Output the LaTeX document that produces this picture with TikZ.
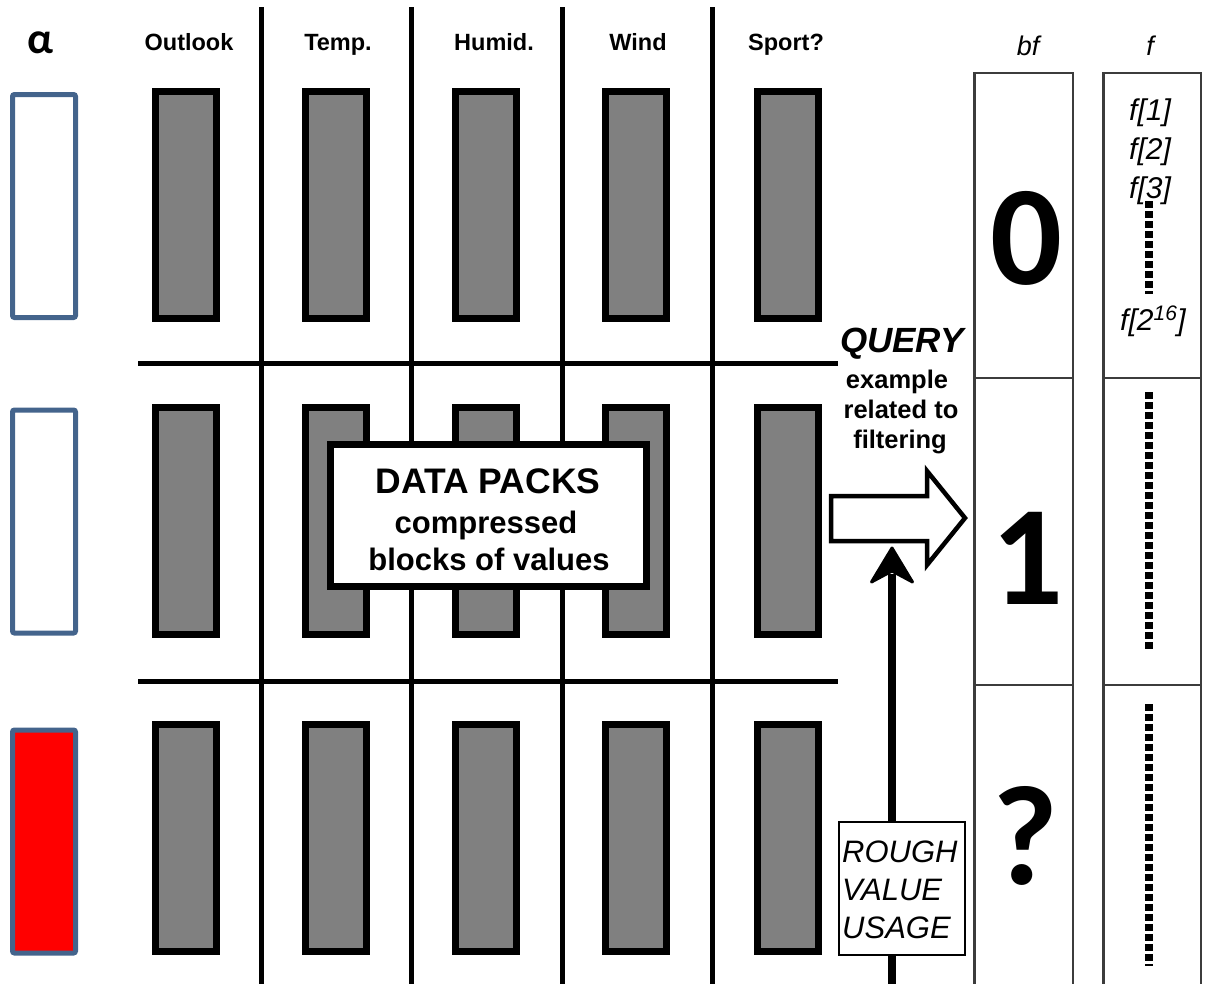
\documentclass[tikz,border=0pt]{standalone}
\usepackage{fontspec}
\setmainfont{Liberation Sans}
\newfontfamily\calib{Carlito}
\usetikzlibrary{arrows.meta}
\definecolor{boxblue}{RGB}{68,100,140}
\definecolor{packgray}{RGB}{128,128,128}
\definecolor{colline}{RGB}{60,60,60}
\begin{document}
\begin{tikzpicture}[x=1pt,y=-1pt,
  bar/.style={draw=black,fill=packgray,line width=7pt,minimum width=61pt,minimum height=227pt,inner sep=0pt},
  abox/.style={draw=boxblue,line width=5pt,rounded corners=2pt,minimum width=63pt,minimum height=223pt,inner sep=0pt},
  gridline/.style={line width=5pt,black},
  hdr/.style={font=\fontsize{23.5}{28}\selectfont\bfseries,inner sep=0pt,anchor=base},
  txt/.style={inner sep=0pt,anchor=base},
  colcell/.style={draw=colline,line width=2.5pt,inner sep=0pt},
  dotline/.style={line width=8.5pt,dash pattern=on 6.5pt off 3.5pt},
  bigdigit/.style={font=\calib\bfseries\fontsize{142}{150}\selectfont,inner sep=0pt,anchor=base},
  flab/.style={font=\fontsize{30}{34}\selectfont\itshape,inner sep=0pt,anchor=base}
]
\useasboundingbox (0,0) rectangle (1207,983);

% alpha and left boxes
\node[txt,font=\calib\bfseries\fontsize{44}{48}\selectfont] (alpha) at (40,53) {α};
\node[abox] (a1) at (44,206) {};
\node[abox] (a2) at (44,521.5) {};
\node[abox,fill=red] (a3) at (44,841.5) {};

% headers
\node[hdr] (h1) at (189,50) {Outlook};
\node[hdr] (h2) at (338,50) {Temp.};
\node[hdr] (h3) at (494,50) {Humid.};
\node[hdr] (h4) at (638,50) {Wind};
\node[hdr] (h5) at (786,50) {Sport?};

% grid lines
\foreach \x in {261.5,411.5,562.5,712.5} \draw[gridline] (\x,7) -- (\x,990);
\foreach \y in {363,681} \draw[gridline] (138,\y) -- (838,\y);

% data pack bars
\foreach \c/\x in {1/186,2/336,3/485.5,4/636,5/787.5}{
  \node[bar] (p1\c) at (\x,205) {};
  \node[bar] (p2\c) at (\x,521) {};
  \node[bar] (p3\c) at (\x,838) {};
}

% DATA PACKS box
\node[draw=black,fill=white,line width=7pt,minimum width=316pt,minimum height=142pt,inner sep=0pt] (dp) at (488.5,515.5) {};
\node[txt,font=\fontsize{35.5}{40}\selectfont\bfseries] (dpt1) at (488,493) {DATA PACKS};
\node[txt,font=\fontsize{31}{36}\selectfont\bfseries] (dpt2) at (486,533) {compressed};
\node[txt,font=\fontsize{31}{36}\selectfont\bfseries] (dpt3) at (489,570) {blocks of values};

% QUERY text
\node[txt,font=\fontsize{35}{38}\selectfont\bfseries\itshape] (q1) at (902,352) {QUERY};
\node[txt,font=\fontsize{25.5}{30}\selectfont\bfseries] (q2) at (897,388) {example};
\node[txt,font=\fontsize{25.5}{30}\selectfont\bfseries] (q3) at (901,418) {related to};
\node[txt,font=\fontsize{25.5}{30}\selectfont\bfseries] (q4) at (900,448) {filtering};

% block arrow
\draw[line width=4.5pt,fill=white,line join=miter] (831,496) -- (927,496) -- (927,471) -- (965,518) -- (927,565) -- (927,541) -- (831,541) -- cycle;

% vertical arrow
\coordinate (vbot) at (892,995);
\coordinate (vneck) at (892,574);
\coordinate (vtip) at (892,548);
\draw[line width=8pt] (vbot) -- (vneck);
\filldraw[line width=3pt,line join=round] (vtip) -- (871.5,582) -- (892,571) -- (912.5,582) -- cycle;

% rough value usage box
\node[draw=black,fill=white,line width=2pt,minimum width=126pt,minimum height=133pt,inner sep=0pt] (rb) at (902,888.5) {};
\node[txt,anchor=base west,font=\fontsize{31}{36}\selectfont\itshape] (r1) at (842,862) {ROUGH};
\node[txt,anchor=base west,font=\fontsize{31}{36}\selectfont\itshape] (r2) at (842,900) {VALUE};
\node[txt,anchor=base west,font=\fontsize{31}{36}\selectfont\itshape] (r3) at (842,938) {USAGE};

% bf column
\node[txt,font=\fontsize{27}{30}\selectfont\itshape] (bfh) at (1028,55) {bf};
\node[colcell,minimum width=98.5pt,minimum height=305pt] (bf0) at (1023.5,225.5) {};
\node[colcell,minimum width=98.5pt,minimum height=307pt] (bf1) at (1023.5,531.5) {};
\node[colcell,minimum width=98.5pt,minimum height=310pt] (bf2) at (1023.5,840) {};
\node[bigdigit] (d0) at (1026,284) {0};
\node[bigdigit] (d1) at (1027,604) {1};
\node[bigdigit] (d2) at (1025,884) {?};

% f column
\node[txt,font=\fontsize{27}{30}\selectfont\itshape] (fh) at (1150,55) {f};
\node[colcell,minimum width=97.5pt,minimum height=305pt] (f0) at (1152,225.5) {};
\node[colcell,minimum width=97.5pt,minimum height=307pt] (f1) at (1152,531.5) {};
\node[colcell,minimum width=97.5pt,minimum height=310pt] (f2) at (1152,840) {};
\node[flab] (fa) at (1150,120) {f[1]};
\node[flab] (fb) at (1150,159) {f[2]};
\node[flab] (fc) at (1150,198) {f[3]};
\node[flab] (fd) at (1153,330) {f[2\textsuperscript{16}]};
\draw[dotline] (1149,201) -- (1149,294);
\draw[dotline] (1149,392) -- (1149,652);
\draw[dotline] (1149,704) -- (1149,966);
\end{tikzpicture}
\end{document}
